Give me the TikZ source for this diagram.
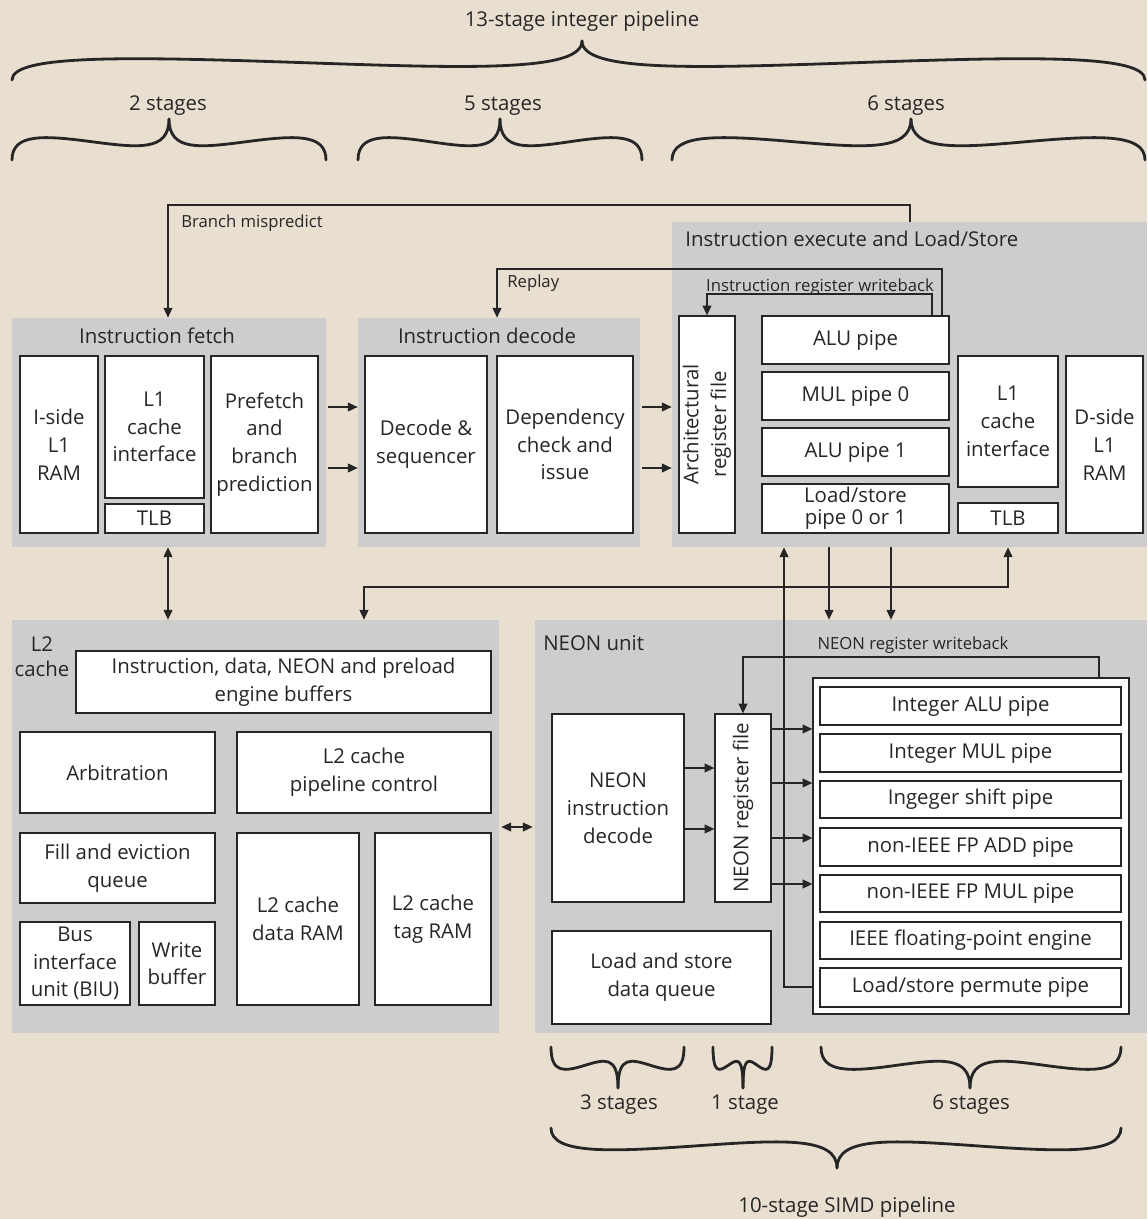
\documentclass[tikz,border=0pt]{standalone}
\usepackage{fontspec}
\setmainfont{Open Sans}
\usetikzlibrary{arrows.meta,fit}
\definecolor{bg}{HTML}{E8DFD1}
\definecolor{panelgray}{HTML}{CDCDCD}
\definecolor{ink}{HTML}{262626}

\newcommand\halfbrace[4]{%
 \pgfmathsetmacro\bhh{#2-#4}%
 \pgfmathsetmacro\bLL{#3-#1}%
 \pgfmathsetmacro\bxm{#1+0.5*\bLL}%
 \pgfmathsetmacro\bya{#2-0.65*\bhh}%
 \pgfmathsetmacro\bxb{\bxm-0.3*\bLL}%
 \pgfmathsetmacro\byb{#2-0.6*\bhh}%
 \pgfmathsetmacro\bym{#2-0.45*\bhh}%
 \pgfmathsetmacro\bxc{\bxm+0.3*\bLL}%
 \pgfmathsetmacro\byc{#2-0.3*\bhh}%
 \pgfmathsetmacro\byd{#2-0.2*\bhh}%
 \draw[bracel] (#1,#2) .. controls (#1,\bya) and (\bxb,\byb) .. (\bxm,\bym) .. controls (\bxc,\byc) and (#3,\byd) .. (#3,#4);%
}
\newcommand\cbrace[5]{\halfbrace{#1}{#4}{#3}{#5}\halfbrace{#2}{#4}{#3}{#5}}
% box from pixel corners: [opts]{name}{x0}{y0}{x1}{y1}{text}
\newcommand\bx[7][]{%
 \pgfmathsetmacro\bxw{(#5-#3)*0.02}%
 \pgfmathsetmacro\bxh{(#6-#4)*0.02}%
 \node[box,minimum width=\bxw cm,minimum height=\bxh cm,#1] (#2) at ({(#3+#5)/2},{(#4+#6)/2}) {#7};%
}

\begin{document}
\begin{tikzpicture}[x=0.02cm,y=-0.02cm,
  panel/.style={fill=panelgray,draw=none,inner sep=0pt},
  box/.style={draw=ink,line width=0.75pt,fill=white,inner sep=0pt,align=center,font=\fontsize{11.6}{15.8}\selectfont,text=ink},
  rot/.style={rotate=90,align=center,inner sep=0pt,font=\fontsize{11.6}{15.8}\selectfont,text=ink},
  title/.style={font=\fontsize{11.6}{14}\selectfont,text=ink,inner sep=0pt},
  ptitle/.style={font=\fontsize{11.6}{13}\selectfont,text=ink,inner sep=0pt},
  small/.style={font=\fontsize{9.5}{11}\selectfont,text=ink,inner sep=0pt},
  conn/.style={draw=ink,line width=0.75pt},
  arr/.style={conn,-{Triangle[length=5.5pt,width=5pt]}},
  arrs/.style={conn,{Triangle[length=5.5pt,width=5pt]}-{Triangle[length=5.5pt,width=5pt]}},
  bracel/.style={draw=ink,line width=1.6pt,line cap=round},
]
\fill[bg] (0,0) rectangle (1147,1219);
\useasboundingbox (0,0) rectangle (1147,1219);

% ---------- top braces ----------
\node[ptitle] (lbl13) at (582,21) {13-stage integer pipeline};
\cbrace{12}{1145}{582}{80}{41}
\node[ptitle] (lbl2) at (168,106) {2 stages};
\node[ptitle] (lbl5) at (503,106) {5 stages};
\node[ptitle] (lbl6) at (906,106) {6 stages};
\cbrace{12}{326}{169}{160}{119}
\cbrace{358}{642}{500}{160}{119}
\cbrace{672}{1145}{911}{160}{119}

% ---------- panels ----------
\node[panel,fit={(12,318)(326,547)}] (fetch) {};
\node[panel,fit={(358,318)(640,547)}] (decode) {};
\node[panel,fit={(672,222)(1147,547)}] (exec) {};
\node[panel,fit={(12,620)(499,1033)}] (l2) {};
\node[panel,fit={(535,620)(1147,1033)}] (neon) {};

\node[title] (fetchT) at (157,336) {Instruction fetch};
\node[title] (decodeT) at (487,336) {Instruction decode};
\node[title,anchor=west] (execT) at (685,239) {Instruction execute and Load/Store};
\node[title,align=center] (l2T) at (42,657) {L2\\cache};
\node[title,anchor=west] (neonT) at (543,643) {NEON unit};

% ---------- fetch ----------
\bx{iram}{20}{356}{98}{533}{I-side\\L1\\RAM}
\bx{il1}{105}{356}{204}{498}{L1\\cache\\interface}
\bx{itlb}{105}{504}{204}{533}{TLB}
\bx{pref}{211}{356}{318}{533}{Prefetch\\and\\branch\\prediction}

% ---------- decode ----------
\bx{dseq}{365}{356}{487}{533}{Decode \&\\sequencer}
\bx{dep}{497}{356}{633}{533}{Dependency\\check and\\issue}

% ---------- execute ----------
\bx{arch}{679}{316}{735}{533}{}
\node[rot] (archT) at (arch.center) {Architectural\\register file};
\bx{alu0}{762}{316}{949}{364}{ALU pipe}
\bx{mul0}{762}{372}{949}{420}{MUL pipe 0}
\bx{alu1}{762}{428}{949}{476}{ALU pipe 1}
\bx[font=\fontsize{11.6}{12.5}\selectfont]{ls}{762}{484}{949}{533}{Load/store\\pipe 0 or 1}
\bx{dl1}{958}{356}{1058}{487}{L1\\cache\\interface}
\bx{dtlb}{958}{503}{1058}{533}{TLB}
\bx{dram}{1066}{356}{1143}{533}{D-side\\L1\\RAM}

% ---------- L2 ----------
\bx{bufs}{76}{651}{491}{713}{Instruction, data, NEON and preload\\engine buffers}
\bx{arb}{20}{732}{215}{813}{Arbitration}
\bx{l2pc}{237}{732}{491}{813}{L2 cache\\pipeline control}
\bx{fill}{20}{833}{215}{903}{Fill and eviction\\queue}
\bx{biu}{20}{922}{130}{1005}{Bus\\interface\\unit (BIU)}
\bx{wbuf}{139}{922}{215}{1005}{Write\\buffer}
\bx{l2data}{237}{833}{359}{1005}{L2 cache\\data RAM}
\bx{l2tag}{375}{833}{491}{1005}{L2 cache\\tag RAM}

% ---------- NEON ----------
\bx{ndec}{552}{714}{684}{902}{NEON\\instruction\\decode}
\bx{nreg}{715}{714}{771}{902}{}
\node[rot] (nregT) at (nreg.center) {NEON register file};
\bx{lsq}{552}{931}{771}{1024}{Load and store\\data queue}
\bx{pipes}{813}{678}{1129}{1014}{}
\bx{p1}{820}{687}{1121}{725}{Integer ALU pipe}
\bx{p2}{820}{734}{1121}{772}{Integer MUL pipe}
\bx{p3}{820}{781}{1121}{818}{Ingeger shift pipe}
\bx{p4}{820}{828}{1121}{866}{non-IEEE FP ADD pipe}
\bx{p5}{820}{875}{1121}{912}{non-IEEE FP MUL pipe}
\bx{p6}{820}{922}{1121}{959}{IEEE floating-point engine}
\bx{p7}{820}{968}{1121}{1007}{Load/store permute pipe}

% ---------- feedback lines ----------
\coordinate (bmTop) at (910,205);
\draw[arr] (exec.north -| bmTop) -- (bmTop) -| (fetch.north -| 168,0);
\node[small,anchor=west] (bmL) at (181,223) {Branch mispredict};

\coordinate (rpTop) at (942,269);
\draw[arr] (alu0.north -| rpTop) -- (rpTop) -| (decode.north -| 497,0);
\node[small,anchor=west] (rpL) at (507,283) {Replay};

\coordinate (iwbTop) at (932,294);
\draw[arr] (alu0.north -| iwbTop) -- (iwbTop) -| (arch.north -| 707,0);
\node[small,anchor=base] (iwbL) at (820,292) {Instruction register writeback};

% ---------- pipeline arrows ----------
\draw[arr] (328,407) -- (decode.west |- 0,407);
\draw[arr] (328,468) -- (decode.west |- 0,468);
\draw[arr] (642,407) -- (exec.west |- 0,407);
\draw[arr] (642,468) -- (exec.west |- 0,468);

% ---------- memory connections ----------
\draw[arrs] (fetch.south -| 168,0) -- (l2.north -| 168,0);
\coordinate (tlbBus) at (1008,587);
\draw[arrs] (l2.north -| 364,0) |- (tlbBus) -- (exec.south -| tlbBus);
\draw[arr] (exec.south -| 829,0) -- (neon.north -| 829,0);
\draw[arr] (exec.south -| 891,0) -- (neon.north -| 891,0);
\coordinate (lsUp) at (784,987);
\draw[arr] (pipes.west |- lsUp) -- (lsUp) -- (exec.south -| lsUp);
\draw[arrs] (l2.east |- 0,827) ++(2,0) -- ([xshift=-0.04cm]neon.west |- 0,827);

% ---------- NEON internal ----------
\coordinate (nwbTop) at (1099,657);
\draw[arr] (pipes.north -| nwbTop) -- (nwbTop) -| (nreg.north -| 743,0);
\node[small] (nwbL) at (913,645) {NEON register writeback};
\draw[arr] (ndec.east |- 0,768) -- (nreg.west |- 0,768);
\draw[arr] (ndec.east |- 0,829) -- (nreg.west |- 0,829);
\foreach \yy in {729,783,838,884}{\draw[arr] (nreg.east |- 0,\yy) -- (pipes.west |- 0,\yy);}

% ---------- bottom braces ----------
\cbrace{551}{684}{618}{1047}{1088}
\cbrace{713}{772}{743}{1047}{1088}
\cbrace{821}{1121}{970}{1047}{1088}
\node[ptitle] (lbl3s) at (619,1105) {3 stages};
\node[ptitle] (lbl1s) at (745,1105) {1 stage};
\node[ptitle] (lbl6s) at (971,1105) {6 stages};
\cbrace{551}{1121}{837}{1128}{1168}
\node[ptitle] (lbl10) at (847,1207) {10-stage SIMD pipeline};
\end{tikzpicture}
\end{document}
